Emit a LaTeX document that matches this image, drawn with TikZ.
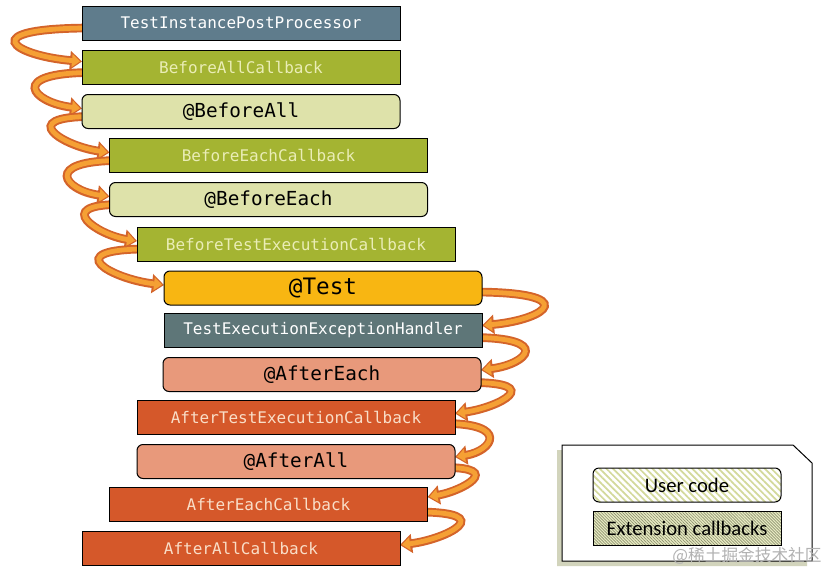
\documentclass[tikz,border=0pt]{standalone}
\usepackage{fontspec}
\setmonofont{DejaVu Sans Mono}
\setsansfont{Carlito}
\newfontfamily\cjkfont{Noto Sans CJK SC}
\usetikzlibrary{arrows.meta,calc,patterns.meta}
\definecolor{tippc}{HTML}{5F7C8C}
\definecolor{cbgreen}{HTML}{A4B432}
\definecolor{cbtext}{HTML}{EAEDB6}
\definecolor{ucpale}{HTML}{DEE2AA}
\definecolor{testc}{HTML}{F8B612}
\definecolor{teehc}{HTML}{5E7678}
\definecolor{salmon}{HTML}{E8997B}
\definecolor{acbc}{HTML}{D5582A}
\definecolor{acbtext}{HTML}{F9DEC8}
\definecolor{arrdark}{HTML}{D4642A}
\definecolor{arrlight}{HTML}{F5A034}
\definecolor{shadowc}{HTML}{D2D4BC}
\definecolor{stripec}{HTML}{D3D99B}
\definecolor{hatchc}{HTML}{8E9270}
\newcommand\curlLeft[3]{%
  \draw[curlout] #1 .. controls +(-1.3*#3,0) and +(-0.75*#3,-6) .. #2;
  \draw[curlin] #1 .. controls +(-1.3*#3,0) and +(-0.75*#3,-6) .. #2;}
\newcommand\curlRight[3]{%
  \draw[curlout] #1 .. controls +(1.3*#3,0) and +(0.75*#3,-6) .. #2;
  \draw[curlin] #1 .. controls +(1.3*#3,0) and +(0.75*#3,-6) .. #2;}
\begin{document}
\begin{tikzpicture}[x=0.75pt,y=-0.75pt,
  box/.style={draw=black, line width=0.75pt, minimum width=238.5pt, minimum height=25.5pt,
    inner sep=0pt, outer sep=0pt, font=\ttfamily\fontsize{12}{14}\selectfont},
  cbbox/.style={box, fill=cbgreen, text=cbtext},
  ucbox/.style={box, rounded corners=4.5pt, fill=ucpale, text=black,
    font=\ttfamily\fontsize{14.5}{16}\selectfont},
  acbbox/.style={box, fill=acbc, text=acbtext},
  aucbox/.style={ucbox, fill=salmon},
  curlout/.style={line width=6.5pt, draw=arrdark, -{Triangle[length=9pt,width=14pt]}},
  curlin/.style={line width=3.6pt, draw=arrlight, shorten >=1.5pt, -{Triangle[length=6pt,width=9.5pt]}},
  legtext/.style={font=\sffamily\fontsize{15.5}{17}\selectfont, text=black}
]
\useasboundingbox (0,0) rectangle (832,575);
\fill[white] (0,0) rectangle (832,575);

% coordinates for box centres
\coordinate (c1) at (241,23);
\coordinate (c2) at (241,67.5);
\coordinate (c3) at (241,111.5);
\coordinate (c4) at (268.5,155.5);
\coordinate (c5) at (268.5,199.5);
\coordinate (c6) at (296,244);
\coordinate (c7) at (323,288);
\coordinate (c8) at (323,330.5);
\coordinate (c9) at (322,374.5);
\coordinate (c10) at (296,417.5);
\coordinate (c11) at (296,461.5);
\coordinate (c12) at (268.5,504);
\coordinate (c13) at (241,548);

% invisible nodes for anchors (boxes drawn later)
\path (c1) node[box, draw=none] (n1) {}
      (c2) node[box, draw=none] (n2) {}
      (c3) node[box, draw=none] (n3) {}
      (c4) node[box, draw=none] (n4) {}
      (c5) node[box, draw=none] (n5) {}
      (c6) node[box, draw=none] (n6) {}
      (c7) node[box, draw=none] (n7) {}
      (c8) node[box, draw=none] (n8) {}
      (c9) node[box, draw=none] (n9) {}
      (c10) node[box, draw=none] (n10) {}
      (c11) node[box, draw=none] (n11) {}
      (c12) node[box, draw=none] (n12) {}
      (c13) node[box, draw=none] (n13) {};

% left curls
\curlLeft{($(n1.west)+(10,5)$)}{($(n2.west)+(0,-6)$)}{92}
\curlLeft{($(n2.west)+(10,5)$)}{($(n3.west)+(0,-3)$)}{66}
\curlLeft{($(n3.west)+(10,5)$)}{($(n4.west)+(0,-3)$)}{60}
\curlLeft{($(n4.west)+(10,5)$)}{($(n5.west)+(0,-3)$)}{60}
\curlLeft{($(n5.west)+(10,5)$)}{($(n6.west)+(0,-3)$)}{52}
\curlLeft{($(n6.west)+(10,5)$)}{($(n7.west)+(0,-3)$)}{69}
% right curls
\curlRight{($(n7.east)+(-10,4)$)}{($(n8.east)+(0,-5)$)}{86}
\curlRight{($(n8.east)+(-10,7)$)}{($(n9.east)+(0,-4.5)$)}{62}
\curlRight{($(n9.east)+(-10,8)$)}{($(n10.east)+(0,-4)$)}{58}
\curlRight{($(n10.east)+(-10,6)$)}{($(n11.east)+(0,-4.5)$)}{50}
\curlRight{($(n11.east)+(-10,6)$)}{($(n12.east)+(0,-7)$)}{46}
\curlRight{($(n12.east)+(-10,8)$)}{($(n13.east)+(0,-3)$)}{63}

% boxes
\node[box, fill=tippc, text=white] (b1) at (c1) {TestInstancePostProcessor};
\node[cbbox] (b2) at (c2) {BeforeAllCallback};
\node[ucbox] (b3) at (c3) {@BeforeAll};
\node[cbbox] (b4) at (c4) {BeforeEachCallback};
\node[ucbox] (b5) at (c5) {@BeforeEach};
\node[cbbox] (b6) at (c6) {BeforeTestExecutionCallback};
\node[ucbox, fill=testc, font=\ttfamily\fontsize{17}{19}\selectfont] (b7) at (c7) {@Test};
\node[box, fill=teehc, text=white] (b8) at (c8) {TestExecutionExceptionHandler};
\node[aucbox] (b9) at (c9) {@AfterEach};
\node[acbbox] (b10) at (c10) {AfterTestExecutionCallback};
\node[aucbox] (b11) at (c11) {@AfterAll};
\node[acbbox] (b12) at (c12) {AfterEachCallback};
\node[acbbox] (b13) at (c13) {AfterAllCallback};

% legend
\fill[shadowc] (557,450) -- (788,450) -- (807,468) -- (807,566) -- (557,566) -- cycle;
\draw[fill=white, line width=0.75pt] (562,445) -- (793,445) -- (812,463) -- (812,561) -- (562,561) -- cycle;
\node[draw=black, line width=0.75pt, rounded corners=4.5pt, minimum width=141pt, minimum height=25.5pt,
  inner sep=0pt, preaction={fill=white},
  pattern={Lines[angle=-45,distance=3.5pt,line width=1.3pt]}, pattern color=stripec] (uc) at (687,485) {};
\node[legtext] at (uc) {User code};
\node[draw=black, line width=0.75pt, minimum width=141pt, minimum height=26pt,
  inner sep=0pt, preaction={fill=ucpale!70!white},
  pattern={Lines[angle=-45,distance=1.6pt,line width=0.5pt]}, pattern color=hatchc] (ec) at (687,528.5) {};
\node[legtext] at (ec) {Extension callbacks};
\node[font=\cjkfont\fontsize{12.5}{14}\selectfont, text=black!30, inner sep=0pt] (wm) at (747,556) {@稀土掘金技术社区};
\end{tikzpicture}
\end{document}
